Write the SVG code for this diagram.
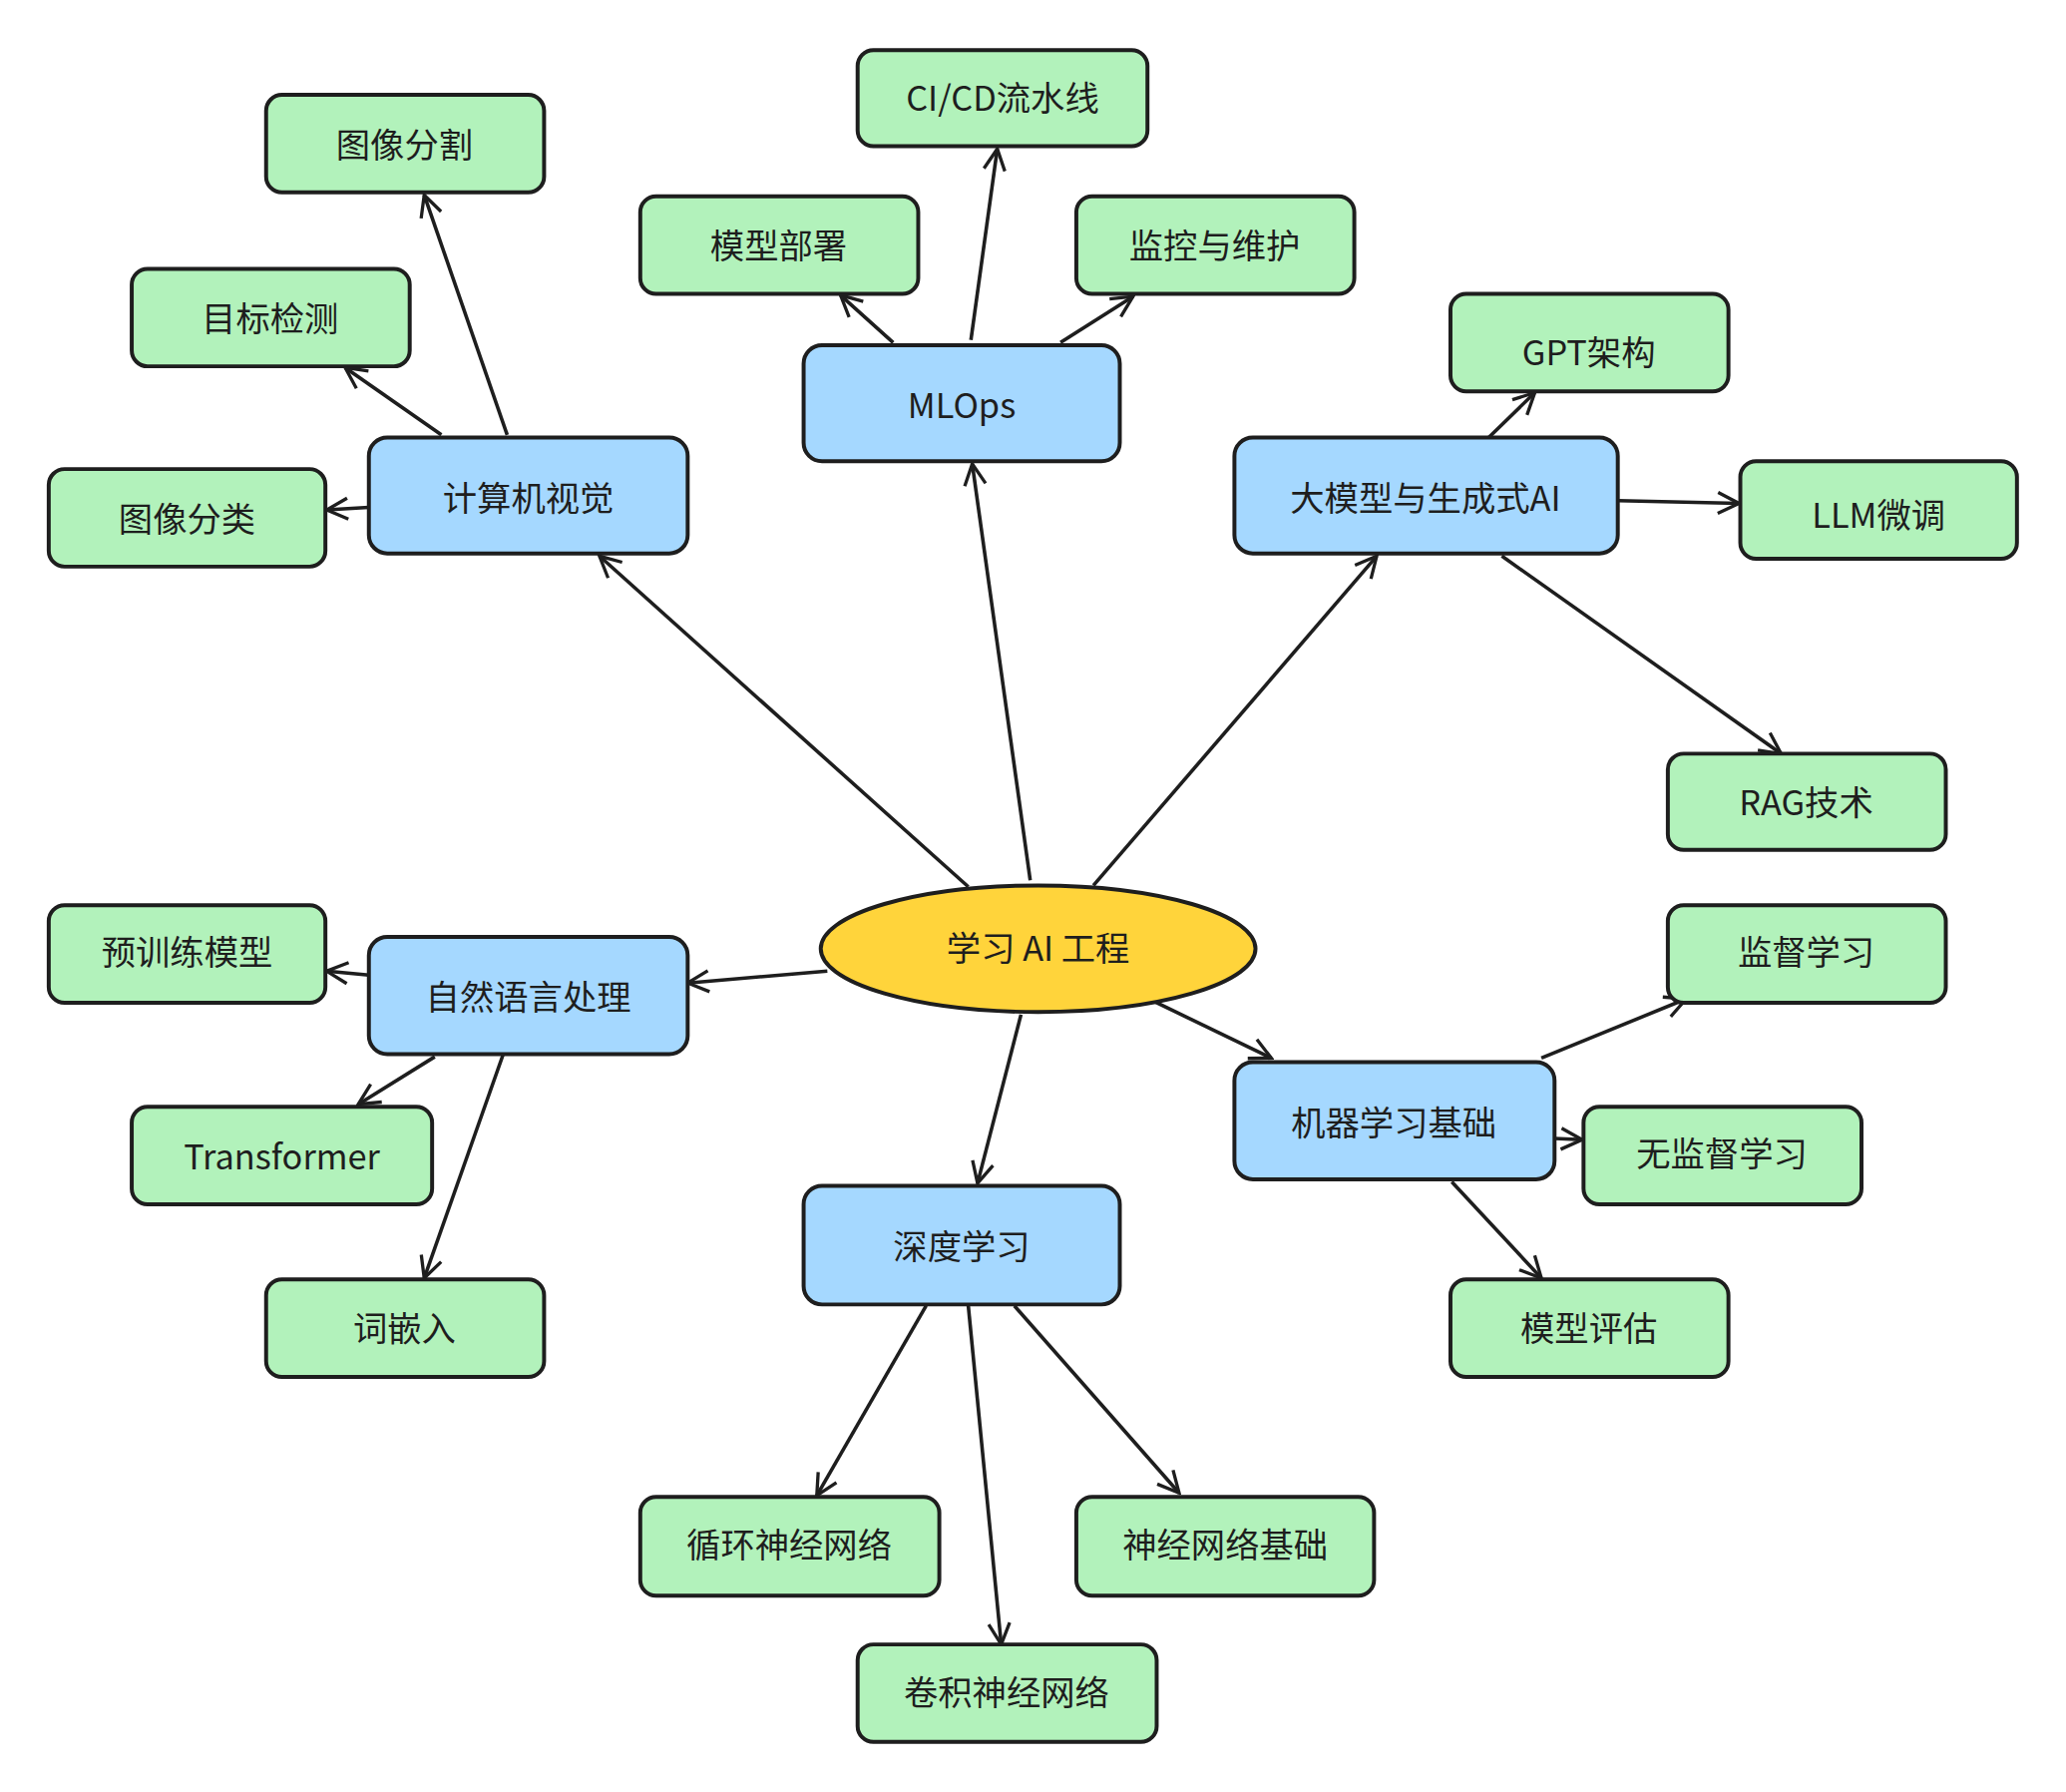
<svg xmlns="http://www.w3.org/2000/svg" width="2071" height="1796" viewBox="0 0 2071 1796">
<defs>
<marker id="a" viewBox="0 0 20 20" refX="18" refY="10" markerWidth="20" markerHeight="20" markerUnits="userSpaceOnUse" orient="auto"><path d="M2,2 L18,10 L2,18" fill="none" stroke="#1e1e1e" stroke-width="2.5"/></marker>
<style>
.b rect{fill:#a5d8ff;stroke:#1e1e1e;stroke-width:3}
.g rect{fill:#b2f2bb;stroke:#1e1e1e;stroke-width:3}
text{font-family:"Noto Sans CJK SC","Noto Sans",sans-serif;font-size:26px;fill:#1e1e1e;text-anchor:middle;dominant-baseline:central}
#edges line{stroke:#1e1e1e;stroke-width:2.7;marker-end:url(#a)}
</style>
</defs>
<rect width="2071" height="1796" fill="#fff"/>
<g transform="scale(1.3206)">
<g id="edges">
<line x1="735" y1="673" x2="455" y2="422"/>
<line x1="782" y1="668" x2="738" y2="352"/>
<line x1="830" y1="672" x2="1045" y2="422"/>
<line x1="628" y1="737" x2="522" y2="746"/>
<line x1="876" y1="760" x2="965" y2="803"/>
<line x1="775" y1="770" x2="742" y2="898"/>
<line x1="385" y1="330" x2="322" y2="148"/>
<line x1="335" y1="330" x2="262" y2="279"/>
<line x1="280" y1="385" x2="248" y2="387"/>
<line x1="678" y1="260" x2="638" y2="224"/>
<line x1="737" y1="258" x2="757" y2="113"/>
<line x1="805" y1="260" x2="860" y2="225"/>
<line x1="1130" y1="332" x2="1165" y2="298"/>
<line x1="1228" y1="380" x2="1320" y2="382"/>
<line x1="1140" y1="422" x2="1352" y2="572"/>
<line x1="280" y1="740" x2="248" y2="737"/>
<line x1="330" y1="802" x2="272" y2="838"/>
<line x1="382" y1="800" x2="322" y2="970"/>
<line x1="1170" y1="803" x2="1280" y2="758"/>
<line x1="1180" y1="864" x2="1201" y2="865"/>
<line x1="1102" y1="897" x2="1170" y2="970"/>
<line x1="703" y1="991" x2="620" y2="1135"/>
<line x1="735" y1="991" x2="760" y2="1248"/>
<line x1="770" y1="991" x2="895" y2="1133"/>
</g>
<g id="center"><ellipse cx="788" cy="720" rx="165" ry="48" fill="#ffd43b" stroke="#1e1e1e" stroke-width="3"/><text x="788" y="718">学习 AI 工程</text></g>
<g id="mlops" class="b"><rect x="610" y="262" width="240" height="88" rx="14"/><text x="730" y="306">MLOps</text></g>
<g id="cv" class="b"><rect x="280" y="332" width="242" height="88" rx="14"/><text x="401" y="376">计算机视觉</text></g>
<g id="llm" class="b"><rect x="937" y="332" width="291" height="88" rx="14"/><text x="1082" y="376">大模型与生成式AI</text></g>
<g id="nlp" class="b"><rect x="280" y="711" width="242" height="89" rx="14"/><text x="401" y="755">自然语言处理</text></g>
<g id="ml" class="b"><rect x="937" y="806" width="243" height="89" rx="14"/><text x="1058" y="850">机器学习基础</text></g>
<g id="dl" class="b"><rect x="610" y="900" width="240" height="90" rx="14"/><text x="730" y="944">深度学习</text></g>
<g id="seg" class="g"><rect x="202" y="72" width="211" height="74" rx="12"/><text x="307" y="108">图像分割</text></g>
<g id="det" class="g"><rect x="100" y="204" width="211" height="74" rx="12"/><text x="205" y="240">目标检测</text></g>
<g id="cls" class="g"><rect x="37" y="356" width="210" height="74" rx="12"/><text x="142" y="392">图像分类</text></g>
<g id="deploy" class="g"><rect x="486" y="149" width="211" height="74" rx="12"/><text x="591" y="185">模型部署</text></g>
<g id="cicd" class="g"><rect x="651" y="38" width="220" height="73" rx="12"/><text x="761" y="73">CI/CD流水线</text></g>
<g id="mon" class="g"><rect x="817" y="149" width="211" height="74" rx="12"/><text x="922" y="185">监控与维护</text></g>
<g id="gpt" class="g"><rect x="1101" y="223" width="211" height="74" rx="12"/><text x="1206" y="266">GPT架构</text></g>
<g id="ft" class="g"><rect x="1321" y="350" width="210" height="74" rx="12"/><text x="1426" y="389">LLM微调</text></g>
<g id="rag" class="g"><rect x="1266" y="572" width="211" height="73" rx="12"/><text x="1371" y="607">RAG技术</text></g>
<g id="pre" class="g"><rect x="37" y="687" width="210" height="74" rx="12"/><text x="142" y="721">预训练模型</text></g>
<g id="tr" class="g"><rect x="100" y="840" width="228" height="74" rx="12"/><text x="214" y="876">Transformer</text></g>
<g id="emb" class="g"><rect x="202" y="971" width="211" height="74" rx="12"/><text x="307" y="1006">词嵌入</text></g>
<g id="sup" class="g"><rect x="1266" y="687" width="211" height="74" rx="12"/><text x="1371" y="721">监督学习</text></g>
<g id="unsup" class="g"><rect x="1202" y="840" width="211" height="74" rx="12"/><text x="1307" y="874">无监督学习</text></g>
<g id="eval" class="g"><rect x="1101" y="971" width="211" height="74" rx="12"/><text x="1206" y="1006">模型评估</text></g>
<g id="rnn" class="g"><rect x="486" y="1136" width="227" height="75" rx="12"/><text x="599" y="1171">循环神经网络</text></g>
<g id="nn" class="g"><rect x="817" y="1136" width="226" height="75" rx="12"/><text x="930" y="1171">神经网络基础</text></g>
<g id="cnn" class="g"><rect x="651" y="1248" width="227" height="74" rx="12"/><text x="764" y="1283">卷积神经网络</text></g>
</g>
</svg>
